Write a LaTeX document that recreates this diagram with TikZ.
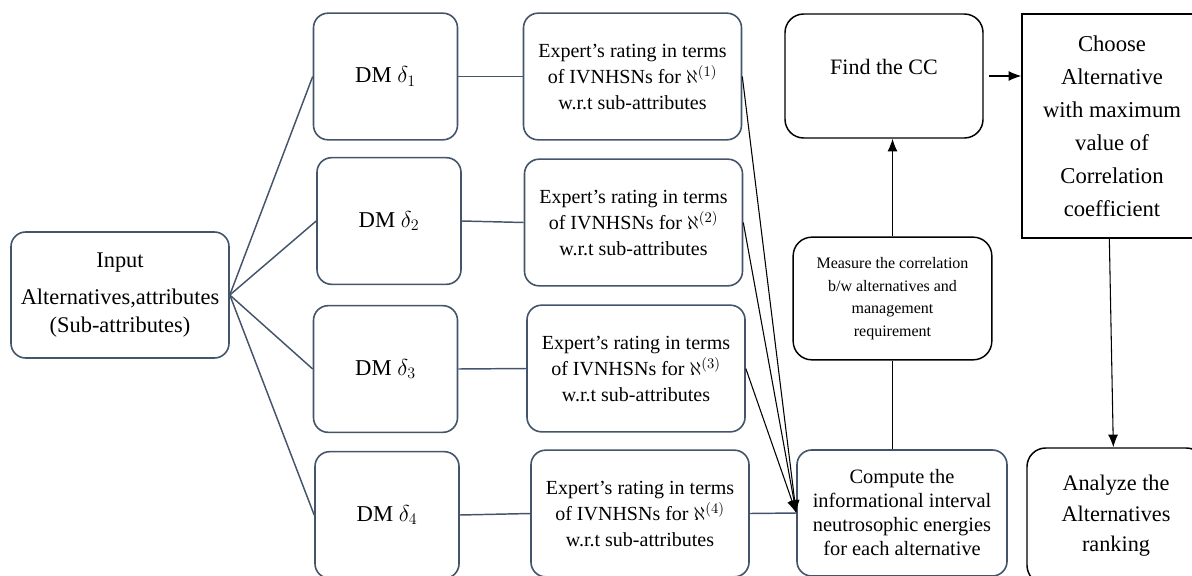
\documentclass[tikz,border=0pt]{standalone}
\usepackage{fontspec}
\setmainfont{Liberation Serif}
\usetikzlibrary{arrows.meta}
\definecolor{slate}{HTML}{44546A}

\tikzset{
  blbox/.style={draw=slate,line width=1.2pt,rounded corners=11pt,align=center,inner sep=2pt},
  bkbox/.style={draw=black,line width=1.1pt,rounded corners=14pt,align=center,inner sep=2pt},
  dmbox/.style={blbox,minimum width=108pt,minimum height=95pt,font=\fontsize{17}{21}\selectfont},
  expbox/.style={blbox,minimum width=163.5pt,minimum height=95pt,font=\fontsize{15}{19.5}\selectfont},
  link/.style={draw=slate,line width=1.1pt},
  arr/.style={-{Latex[length=9.5pt,width=7.5pt]},line width=0.8pt},
}

\begin{document}
\begin{tikzpicture}[x=0.75pt,y=-0.75pt]
\useasboundingbox (0,0) rectangle (1192,575);
% input and decision makers
\node[blbox,minimum width=163.5pt,minimum height=94.5pt,font=\fontsize{16.8}{21}\selectfont](inp)at(120,295){Input\\[7pt]Alternatives,attributes\\(Sub-attributes)};
\node[dmbox](dm1)at(385.5,76.5){DM $\delta_1$};
\node[dmbox](dm2)at(389,221){DM $\delta_2$};
\node[dmbox](dm3)at(385.5,369){DM $\delta_3$};
\node[dmbox](dm4)at(387,515){DM $\delta_4$};
% expert ratings
\node[expbox](exp1)at(632.5,76.5){Expert's rating in terms\\of IVNHSNs for $\aleph^{(1)}$\\w.r.t sub-attributes};
\node[expbox](exp2)at(633.5,222.5){Expert's rating in terms\\of IVNHSNs for $\aleph^{(2)}$\\w.r.t sub-attributes};
\node[expbox](exp3)at(636,368.5){Expert's rating in terms\\of IVNHSNs for $\aleph^{(3)}$\\w.r.t sub-attributes};
\node[expbox](exp4)at(640,513.5){Expert's rating in terms\\of IVNHSNs for $\aleph^{(4)}$\\w.r.t sub-attributes};
% right part
\node[blbox,minimum width=157.5pt,minimum height=94.5pt,font=\fontsize{15.3}{18}\selectfont](comp)at(902,513){Compute the\\informational interval\\neutrosophic energies\\for each alternative};
\node[bkbox,minimum width=149pt,minimum height=92pt,font=\fontsize{12}{17}\selectfont](meas)at(892.5,298.5){Measure the correlation\\b/w alternatives and\\management\\requirement};
\node[bkbox,minimum width=148.5pt,minimum height=93pt,text depth=13.5pt,font=\fontsize{16.5}{20}\selectfont](find)at(884,76){Find the CC};
\node[draw,line width=1.1pt,align=center,minimum width=135pt,minimum height=168pt,font=\fontsize{17}{24.75}\selectfont](choose)at(1112,126){Choose\\Alternative\\with maximum\\value of\\Correlation\\coefficient};
\node[bkbox,minimum width=133.5pt,minimum height=102pt,font=\fontsize{16.7}{23}\selectfont](ana)at(1116,516){Analyze the\\Alternatives\\ranking};
% connectors
\foreach \i in {1,...,4}{
  \draw[link](inp.east)--(dm\i.west);
  \draw[link](dm\i.east)--(exp\i.west);
}
\foreach \i in {1,2,3}
  \draw[arr](exp\i.east)--(comp.west);
\draw[link](exp4.east)--(comp.west);
\draw[line width=0.8pt](meas.south)--(meas.south |- comp.north);
\draw[arr](meas.north)--(meas.north |- find.south);
\draw[arr]([xshift=4pt]find.east)--(find.east -| choose.west);
\draw[arr]([xshift=-2pt]choose.south)--([xshift=-2pt]ana.north);
\end{tikzpicture}
\end{document}
